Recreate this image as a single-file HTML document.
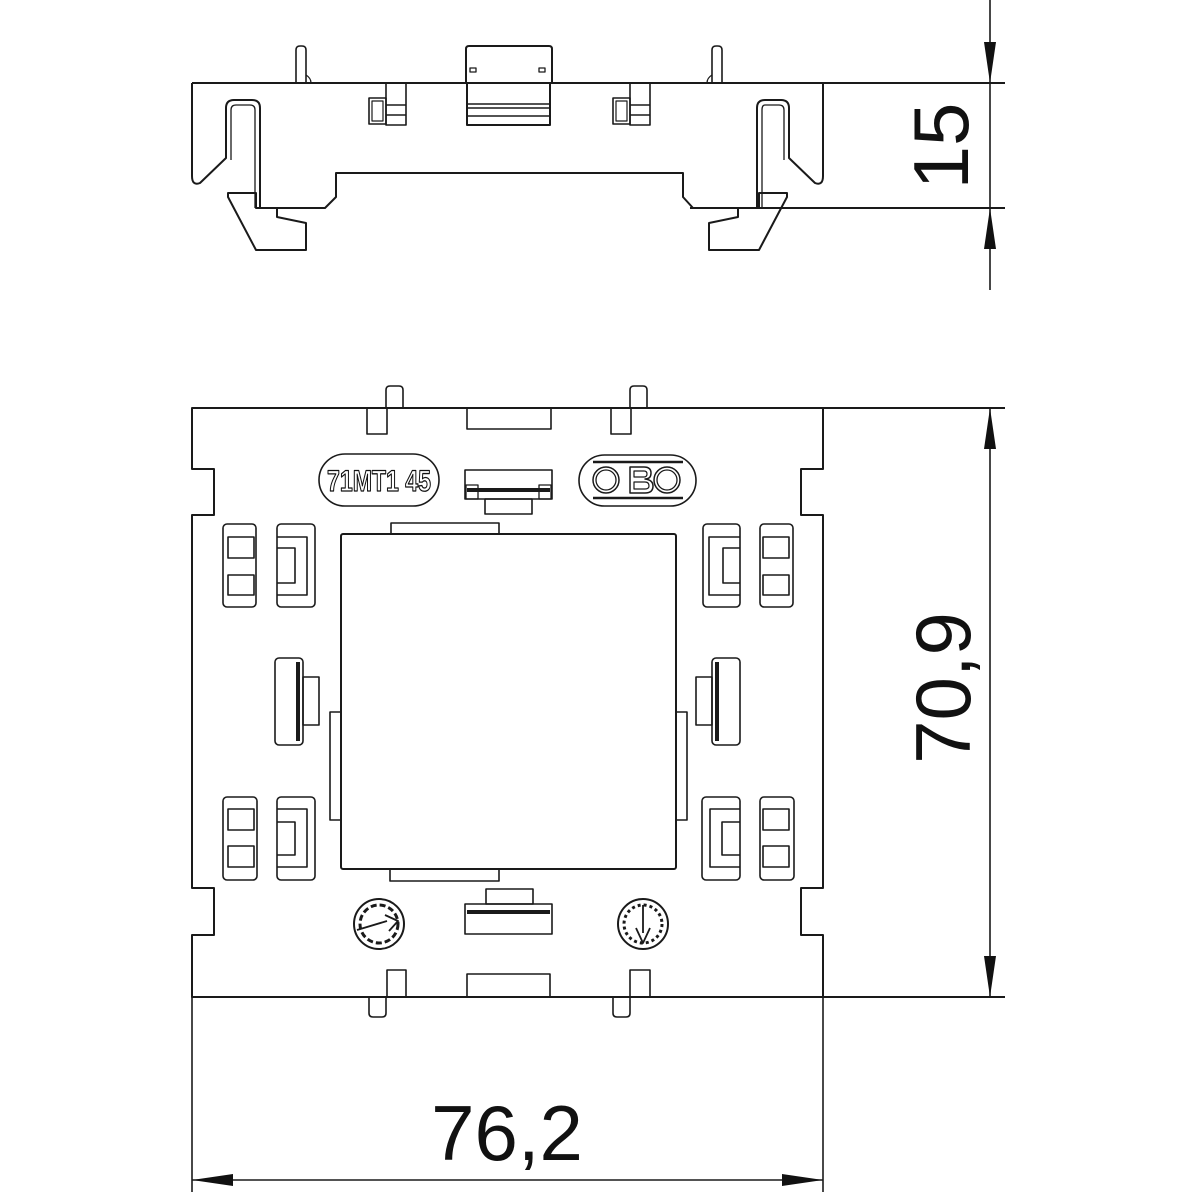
<!DOCTYPE html>
<html><head><meta charset="utf-8"><style>html,body{margin:0;padding:0;background:#fff}svg{display:block}</style></head>
<body>
<svg width="1200" height="1200" viewBox="0 0 1200 1200" xmlns="http://www.w3.org/2000/svg" fill="none" stroke="#1a1a1a" stroke-width="2" stroke-linejoin="round">
<!-- TOP VIEW -->
<line x1="192" y1="83" x2="1005" y2="83"/>
<line x1="690" y1="208" x2="1005" y2="208"/>
<!-- left outer + clip -->
<path d="M192 83 V176 Q192 186 200 183 L226 158 V108 Q226 100 234 100 H252 Q260 100 260 108 V208 H325 L336 197 V173 H683 V197 L693 208 H757 V108 Q757 100 765 100 H781 Q789 100 789 108 V158 L815 183 Q823 186 823 176 V83"/>
<path d="M231 160 V110 Q231 105 236 105 H250 Q255 105 255 110 V208" stroke-width="1.3"/>
<path d="M784 160 V110 Q784 105 779 105 H765 Q762 105 762 110 V208" stroke-width="1.3"/>
<!-- hooks -->
<path d="M228 193 H256 V208 H277 V217 L306 223 V250 H256 L228 197 Z"/>
<path d="M787 193 H759 V208 H738 V217 L709 223 V250 H759 L787 197 Z"/>
<!-- pins -->
<path d="M296 83 V50 Q296 46 300 46 H302 Q306 46 306 50 V83" stroke-width="1.6"/>
<path d="M306 75 Q311 78 311 83" stroke-width="1.3"/>
<path d="M712 83 V50 Q712 46 716 46 H718 Q722 46 722 50 V83" stroke-width="1.6"/>
<path d="M712 75 Q707 78 707 83" stroke-width="1.3"/>
<!-- center piece -->
<path d="M466 83 V49 Q466 46 469 46 H549 Q552 46 552 49 V83 M467 83 V125 H550 V83"/>
<line x1="467" y1="104" x2="550" y2="104" stroke-width="1.5"/>
<line x1="467" y1="108" x2="550" y2="108" stroke-width="1.5"/>
<line x1="467" y1="116" x2="550" y2="116" stroke-width="1.5"/>
<rect x="470" y="68" width="6" height="4" stroke-width="1.3"/>
<rect x="539" y="68" width="6" height="4" stroke-width="1.3"/>
<!-- small latches -->
<rect x="386" y="83" width="20" height="42" stroke-width="1.6"/>
<rect x="369" y="98" width="17" height="26" stroke-width="1.6"/>
<rect x="372" y="101" width="11" height="20" stroke-width="1.2"/>
<line x1="386" y1="105" x2="406" y2="105" stroke-width="1.4"/>
<line x1="386" y1="115" x2="406" y2="115" stroke-width="1.4"/>
<rect x="630" y="83" width="20" height="42" stroke-width="1.6"/>
<rect x="613" y="98" width="17" height="26" stroke-width="1.6"/>
<rect x="616" y="101" width="11" height="20" stroke-width="1.2"/>
<line x1="630" y1="105" x2="650" y2="105" stroke-width="1.4"/>
<line x1="630" y1="115" x2="650" y2="115" stroke-width="1.4"/>
<!-- dim 15 -->
<line x1="990" y1="0" x2="990" y2="290" stroke-width="1.6"/>
<polygon points="990,83 984,42 996,42" fill="#111" stroke="none"/>
<polygon points="990,208 984,249 996,249" fill="#111" stroke="none"/>
<text transform="translate(968 146) rotate(-90)" text-anchor="middle" font-family="Liberation Sans, sans-serif" font-size="78" fill="#111" stroke="none">15</text>

<!-- BOTTOM VIEW -->
<path d="M192 408 V469 H214 V515 H192 V888 H214 V935 H192 V997 H823 V935 H801 V888 H823 V515 H801 V469 H823 V408 Z"/>
<line x1="823" y1="408" x2="1005" y2="408"/>
<line x1="823" y1="997" x2="1005" y2="997"/>
<line x1="192" y1="997" x2="192" y2="1192" stroke-width="1.6"/>
<line x1="823" y1="997" x2="823" y2="1192" stroke-width="1.6"/>
<!-- top pins & slot -->
<rect x="367" y="408" width="20" height="26" stroke-width="1.6"/>
<path d="M386 408 V390 Q386 386 390 386 H399 Q403 386 403 390 V408" stroke-width="1.6"/>
<rect x="611" y="408" width="20" height="26" stroke-width="1.6"/>
<path d="M630 408 V390 Q630 386 634 386 H643 Q647 386 647 390 V408" stroke-width="1.6"/>
<rect x="467" y="408" width="84" height="21" stroke-width="1.6"/>
<!-- labels -->
<rect x="319" y="454" width="120" height="52" rx="26" stroke-width="1.6"/>
<text x="379" y="491" text-anchor="middle" font-family="Liberation Sans, sans-serif" font-size="30" font-weight="bold" textLength="104" lengthAdjust="spacingAndGlyphs" fill="#fff" stroke="#111" stroke-width="1.3">71MT1 45</text>
<rect x="579" y="455" width="117" height="51" rx="25.5" stroke-width="1.6"/>
<line x1="593" y1="462" x2="683" y2="462" stroke-width="2.5"/>
<line x1="593" y1="498" x2="683" y2="498" stroke-width="2.5"/>
<circle cx="606" cy="480" r="13" stroke-width="1.5"/><circle cx="606" cy="480" r="10" stroke-width="1.3"/>
<circle cx="667" cy="480" r="13" stroke-width="1.5"/><circle cx="667" cy="480" r="10" stroke-width="1.3"/>
<path d="M630 467 H644 Q651 467 651 473 Q651 479 645 479 Q653 480 653 486 Q653 493 645 493 H630 Z" stroke-width="1.5"/>
<path d="M634 471 H644 Q647 471 647 474 Q647 477 644 477 H634 Z M634 482 H645 Q649 482 649 486 Q649 489 645 489 H634 Z" stroke-width="1.2"/>
<!-- top connector -->
<rect x="465" y="470" width="87" height="29" stroke-width="1.6"/>
<rect x="485" y="499" width="47" height="15" stroke-width="1.6"/>
<line x1="467" y1="490" x2="550" y2="490" stroke-width="4"/>
<rect x="466" y="485" width="12" height="14" stroke-width="1.3"/>
<rect x="539" y="485" width="12" height="14" stroke-width="1.3"/>
<!-- central square -->
<rect x="341" y="534" width="335" height="335" rx="2"/>
<rect x="391" y="523" width="108" height="11" stroke-width="1.6"/>
<rect x="390" y="869" width="109" height="12" stroke-width="1.6"/>
<rect x="330" y="712" width="11" height="108" stroke-width="1.6"/>
<rect x="676" y="712" width="11" height="108" stroke-width="1.6"/>
<!-- slot groups -->
<g stroke-width="1.6">
<rect x="223" y="524" width="33" height="83" rx="4"/>
<rect x="228" y="537" width="26" height="21"/><rect x="228" y="575" width="26" height="20"/>
<rect x="277" y="524" width="38" height="83" rx="4"/>
<path d="M277 537 H307 V595 H277 M277 548 H295 V583 H277"/>
<rect x="760" y="524" width="33" height="83" rx="4"/>
<rect x="763" y="537" width="26" height="21"/><rect x="763" y="575" width="26" height="20"/>
<rect x="703" y="524" width="37" height="83" rx="4"/>
<path d="M740 537 H709 V595 H740 M740 548 H723 V583 H740"/>

<rect x="223" y="797" width="34" height="83" rx="4"/>
<rect x="228" y="809" width="26" height="21"/><rect x="228" y="846" width="26" height="21"/>
<rect x="277" y="797" width="38" height="83" rx="4"/>
<path d="M277 809 H307 V867 H277 M277 822 H295 V855 H277"/>
<rect x="760" y="797" width="34" height="83" rx="4"/>
<rect x="763" y="809" width="26" height="21"/><rect x="763" y="846" width="26" height="21"/>
<rect x="702" y="797" width="38" height="83" rx="4"/>
<path d="M740 809 H710 V867 H740 M740 822 H722 V855 H740"/>
</g>
<!-- side connectors -->
<rect x="712" y="658" width="28" height="87" rx="4" stroke-width="1.6"/>
<rect x="696" y="677" width="16" height="48" stroke-width="1.6"/>
<line x1="717" y1="662" x2="717" y2="741" stroke-width="4"/>
<rect x="275" y="658" width="28" height="87" rx="4" stroke-width="1.6"/>
<rect x="303" y="677" width="16" height="48" stroke-width="1.6"/>
<line x1="298" y1="662" x2="298" y2="741" stroke-width="4"/>
<!-- bottom connector -->
<rect x="465" y="904" width="87" height="30" stroke-width="1.6"/>
<rect x="486" y="889" width="47" height="15" stroke-width="1.6"/>
<line x1="467" y1="912" x2="550" y2="912" stroke-width="4"/>
<!-- dials -->
<circle cx="379" cy="924" r="25" stroke-width="2"/>
<circle cx="379" cy="924" r="19" stroke-width="3" stroke-dasharray="6 3"/>
<path d="M357 930 L387 921 M385 915 L398 921 L389 931" stroke-width="1.8"/>
<circle cx="643" cy="924" r="25" stroke-width="2"/>
<circle cx="643" cy="924" r="19" stroke-width="3" stroke-dasharray="3 3"/>
<path d="M643 905 V933 M636 928 L643 943 L650 928" stroke-width="1.8"/>
<!-- bottom pins & slot -->
<rect x="467" y="974" width="83" height="23" stroke-width="1.6"/>
<rect x="387" y="970" width="19" height="27" stroke-width="1.6"/>
<path d="M386 997 V1013 Q386 1017 382 1017 H373 Q369 1017 369 1013 V997" stroke-width="1.6"/>
<rect x="630" y="970" width="20" height="27" stroke-width="1.6"/>
<path d="M630 997 V1013 Q630 1017 626 1017 H617 Q613 1017 613 1013 V997" stroke-width="1.6"/>
<!-- dim 70,9 -->
<line x1="990" y1="408" x2="990" y2="997" stroke-width="1.6"/>
<polygon points="990,408 984,449 996,449" fill="#111" stroke="none"/>
<polygon points="990,997 984,956 996,956" fill="#111" stroke="none"/>
<text transform="translate(970 688) rotate(-90)" text-anchor="middle" font-family="Liberation Sans, sans-serif" font-size="78" fill="#111" stroke="none">70,9</text>
<!-- dim 76,2 -->
<line x1="192" y1="1180" x2="823" y2="1180" stroke-width="1.6"/>
<polygon points="192,1180 233,1174 233,1186" fill="#111" stroke="none"/>
<polygon points="823,1180 782,1174 782,1186" fill="#111" stroke="none"/>
<text x="507" y="1160" text-anchor="middle" font-family="Liberation Sans, sans-serif" font-size="78" fill="#111" stroke="none">76,2</text>
</svg>
</body></html>
